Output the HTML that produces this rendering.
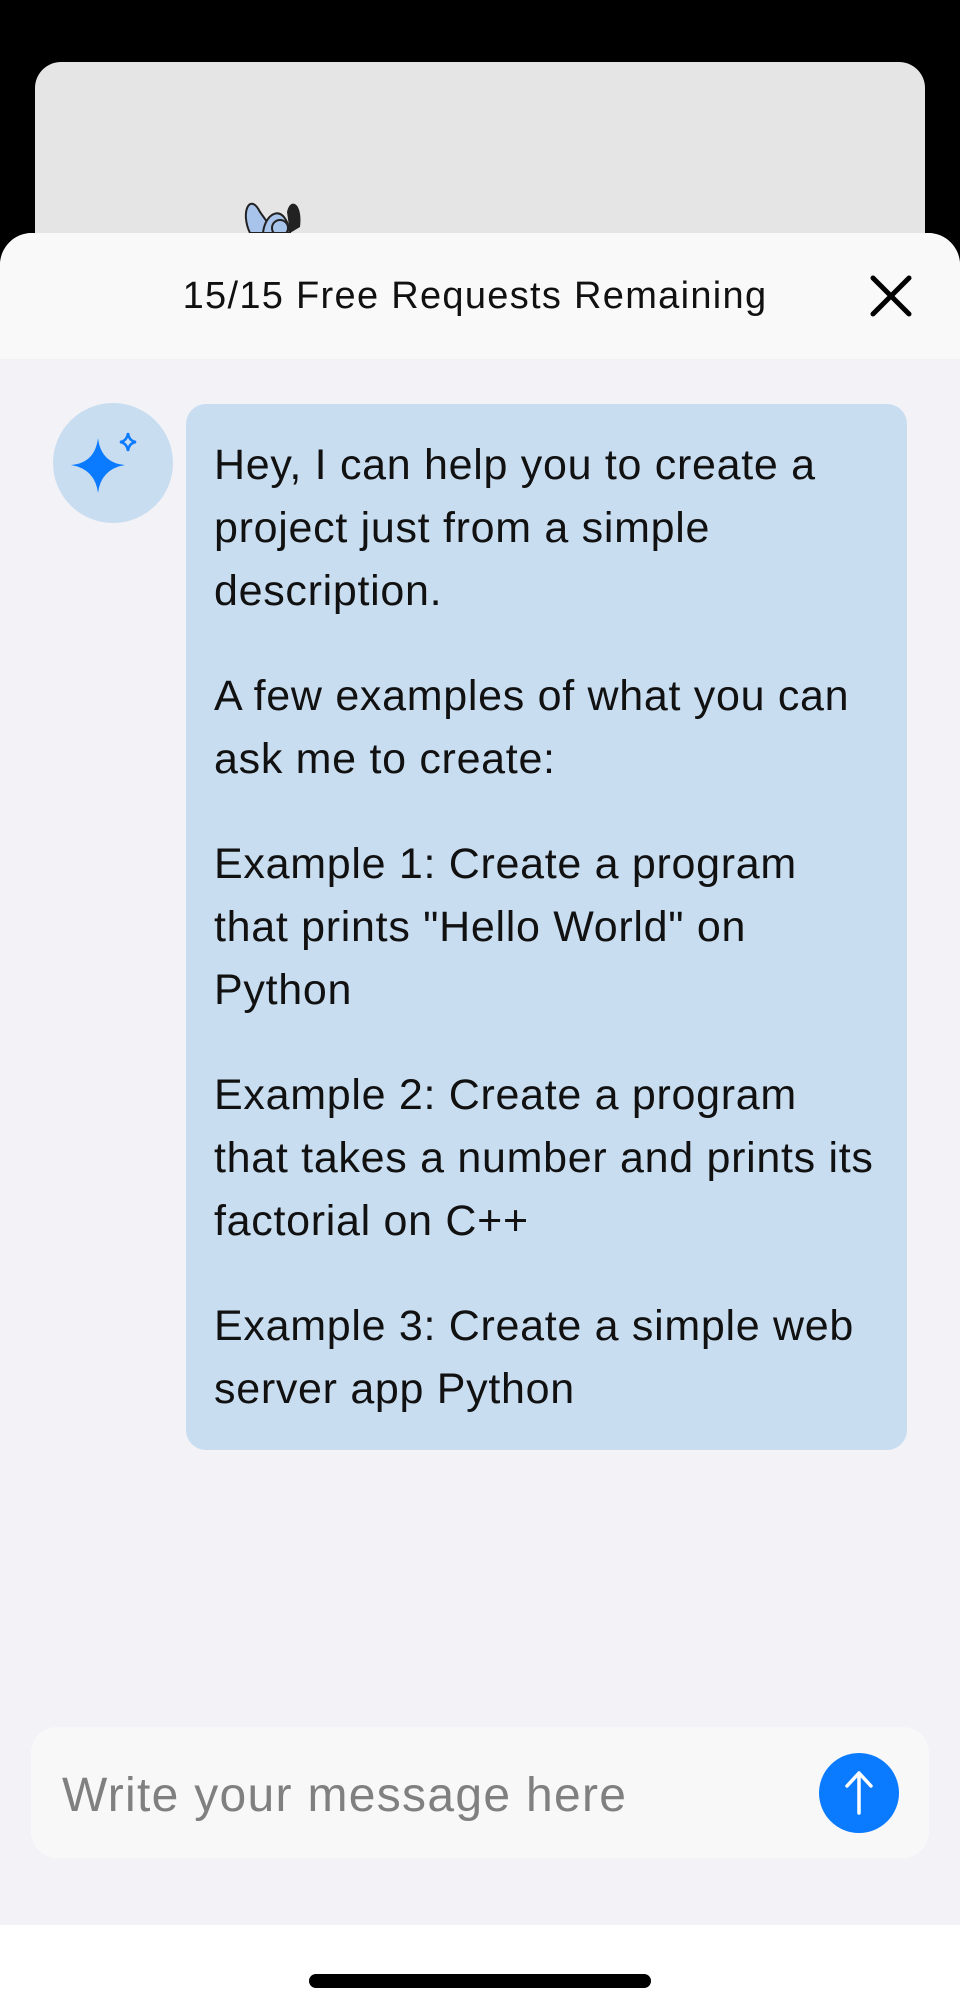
<!DOCTYPE html>
<html><head><meta charset="utf-8"><style>
*{margin:0;padding:0;box-sizing:border-box}
body{width:960px;height:2012px;background:#000;position:relative;overflow:hidden;font-family:"Liberation Sans",sans-serif}
.card{position:absolute;left:35px;top:62px;width:890px;height:300px;background:#e5e5e5;border-radius:26px;overflow:hidden}
.sheet{position:absolute;left:0;top:233px;width:960px;height:1779px;background:#f2f2f7;border-radius:32px 32px 0 0;overflow:hidden}
.hdr{position:absolute;left:0;top:0;width:960px;height:126px;background:#f9f9f9}
.title{position:absolute;left:0;width:960px;text-align:center;top:42px;font-size:38px;letter-spacing:1.3px;color:#111;padding-right:10px;white-space:nowrap}
.av{position:absolute;left:53px;top:170px;width:120px;height:120px;border-radius:50%;background:#c9ddf1}
.bub{position:absolute;left:186px;top:171px;width:721px;height:1046px;background:#c9ddf1;border-radius:20px;padding:30px 0 0 28px;font-size:43px;line-height:63px;color:#111;letter-spacing:0.7px;white-space:nowrap}
.bub p{margin-bottom:42px}
.inp{position:absolute;left:31px;top:1494px;width:898px;height:131px;background:#f8f8f8;border-radius:26px}
.ph{position:absolute;left:31px;top:41px;font-size:48px;color:#808080;letter-spacing:1.3px;white-space:nowrap}
.send{position:absolute;left:788px;top:26px;width:80px;height:80px;border-radius:50%;background:#0a7aff}
.bot{position:absolute;left:0;top:1692px;width:960px;height:87px;background:#fff}
.home{position:absolute;left:309px;top:49px;width:342px;height:14px;border-radius:7px;background:#000}
</style></head><body>
<div class="card">
<svg width="890" height="300" style="position:absolute;left:0;top:0">
<ellipse cx="510" cy="215" rx="75" ry="20" fill="#a9c4ea"/>
<path d="M215 171 C205 150 215 130 225 150 L240 171 Z" fill="#a9c4ea" stroke="#222" stroke-width="2"/>
<path d="M228 171 C230 150 250 140 255 171 Z" fill="#a9c4ea" stroke="#222" stroke-width="2"/>
<path d="M252 150 C255 135 268 140 265 165 L255 171 Z" fill="#222"/>
<circle cx="245" cy="166" r="8" fill="none" stroke="#222" stroke-width="2"/>
</svg>
</div>
<div class="sheet">
<div class="hdr">
<div class="title">15/15 Free Requests Remaining</div>
<svg width="44" height="44" style="position:absolute;left:869px;top:41px"><path d="M4 4L40 40M40 4L4 40" stroke="#000" stroke-width="5" stroke-linecap="round"/></svg>
</div>
<div class="av"><svg width="120" height="120"><path d="M45 35 Q48 60 72 62 Q48 66 45 90 Q42 66 18 62 Q42 60 45 35Z" fill="#0a7aff"/><path d="M75 30 Q76 38 83 39 Q76 40 75 48 Q74 40 67 39 Q74 38 75 30Z" fill="none" stroke="#0a7aff" stroke-width="2.5"/></svg></div>
<div class="bub">
<p>Hey, I can help you to create a<br>project just from a simple<br>description.</p>
<p>A few examples of what you can<br>ask me to create:</p>
<p>Example 1: Create a program<br>that prints "Hello World" on<br>Python</p>
<p>Example 2: Create a program<br>that takes a number and prints its<br>factorial on C++</p>
<p>Example 3: Create a simple web<br>server app Python</p>
</div>
<div class="inp"><div class="ph">Write your message here</div>
<div class="send"><svg width="80" height="80"><path d="M40 60V20M28 33L40 20L52 33" stroke="#fff" stroke-width="3.5" fill="none" stroke-linecap="round" stroke-linejoin="round"/></svg></div></div>
<div class="bot"><div class="home"></div></div>
</div>
</body></html>
